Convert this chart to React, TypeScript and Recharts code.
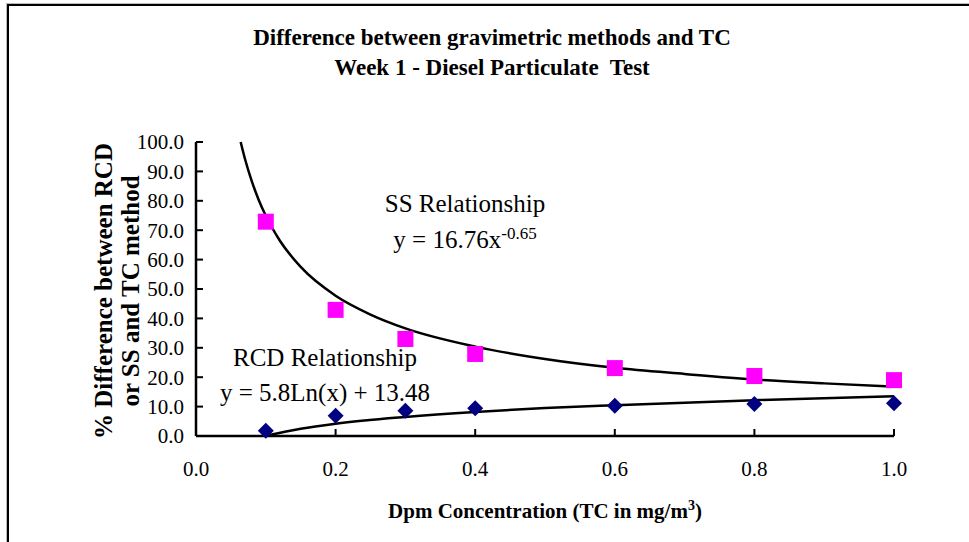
import React from 'react';
import { ComposedChart, Line, Scatter, XAxis, YAxis } from 'recharts';

// measured points (TC in mg/m3 vs % difference)
const tcValues = [0.1, 0.2, 0.3, 0.4, 0.6, 0.8, 1.0];
const ssValues = [72.9, 42.9, 33.0, 27.9, 23.1, 20.4, 19.0];
const rcdValues = [1.8, 6.9, 8.6, 9.4, 10.3, 10.9, 11.1];

// trend curves
const ssCurveX = [0.064, 0.07, 0.08, 0.09, 0.1, 0.12, 0.15, 0.2, 0.25, 0.3, 0.4, 0.5, 0.6, 0.7, 0.8, 0.9, 1.0];
const ssCurveY = [100, 94.4, 86.6, 80.2, 74.9, 66.5, 57.5, 47.7, 41.3, 36.6, 30.4, 26.2, 23.2, 21.1, 19.2, 17.9, 16.8];
const rcdCurveX = [0.1, 0.15, 0.2, 0.3, 0.4, 0.5, 0.6, 0.8, 1.0];
const rcdCurveY = [0.1, 2.5, 4.2, 6.5, 8.2, 9.5, 10.5, 12.2, 13.5];

const xTicks = [0, 0.2, 0.4, 0.6, 0.8, 1.0];
const yTicks = [0, 10, 20, 30, 40, 50, 60, 70, 80, 90, 100];

const ssPoints = tcValues.map((x, i) => ({ x, y: ssValues[i] }));
const rcdPoints = tcValues.map((x, i) => ({ x, y: rcdValues[i] }));
const ssCurve = ssCurveX.map((x, i) => ({ x, y: ssCurveY[i] }));
const rcdCurve = rcdCurveX.map((x, i) => ({ x, y: rcdCurveY[i] }));

const FONT = '"Liberation Serif", "Times New Roman", serif';

const Square = (p: any) => (
  <rect x={p.cx - 8} y={p.cy - 8} width={16} height={16} fill="#FF00FF" />
);

const Diamond = (p: any) => (
  <polygon
    points={`${p.cx},${p.cy - 8} ${p.cx + 8},${p.cy} ${p.cx},${p.cy + 8} ${p.cx - 8},${p.cy}`}
    fill="#000080"
  />
);

const abs = (left: number, top: number): React.CSSProperties => ({
  position: 'absolute',
  left,
  top,
  transform: 'translate(-50%, -50%)',
  whiteSpace: 'nowrap',
  fontFamily: FONT,
  color: '#000',
  lineHeight: 1.2,
});

const supStyle = (size: number): React.CSSProperties => ({ fontSize: size, lineHeight: 0 });

export default function App() {
  const tickStyle = { fill: '#000', fontSize: 21, fontFamily: FONT };
  return (
    <div style={{ position: 'absolute', left: 0, top: 0, width: 969, height: 542, background: '#fff', overflow: 'hidden' }}>
      <style>{'body{margin:0}'}</style>
      <div
        style={{
          position: 'absolute',
          left: 7,
          top: 4,
          width: 980,
          height: 560,
          borderTop: '2px solid #000',
          borderLeft: '2px solid #000',
          boxShadow: '-1px -1px 0 #bbb',
        }}
      />
      <ComposedChart width={969} height={542} margin={{ top: 142, right: 75, bottom: 66, left: 0 }}>
        <XAxis
          type="number"
          dataKey="x"
          domain={[0, 1]}
          ticks={xTicks}
          interval={0}
          tickFormatter={(v: number) => v.toFixed(1)}
          height={40}
          tickSize={-7}
          tickMargin={32}
          axisLine={{ stroke: '#000', strokeWidth: 2.5 }}
          tickLine={{ stroke: '#000', strokeWidth: 2 }}
          tick={tickStyle}
        />
        <YAxis
          type="number"
          dataKey="y"
          domain={[0, 100]}
          ticks={yTicks}
          interval={0}
          tickFormatter={(v: number) => v.toFixed(1)}
          width={196}
          tickSize={-7}
          tickMargin={19}
          axisLine={{ stroke: '#000', strokeWidth: 2.5 }}
          tickLine={{ stroke: '#000', strokeWidth: 2 }}
          tick={tickStyle}
        />
        <Scatter data={ssPoints} shape={Square} isAnimationActive={false} />
        <Scatter data={rcdPoints} shape={Diamond} isAnimationActive={false} />
        <Line data={ssCurve} dataKey="y" type="monotone" stroke="#000" strokeWidth={2.5} dot={false} activeDot={false} isAnimationActive={false} />
        <Line data={rcdCurve} dataKey="y" type="monotone" stroke="#000" strokeWidth={2.5} dot={false} activeDot={false} isAnimationActive={false} />
      </ComposedChart>

      <div style={{ ...abs(492, 38), fontSize: 23, fontWeight: 'bold' }}>Difference between gravimetric methods and TC</div>
      <div style={{ ...abs(492, 68), fontSize: 23, fontWeight: 'bold', whiteSpace: 'pre' }}>Week 1 - Diesel Particulate  Test</div>

      <div style={{ ...abs(104, 291), fontSize: 25, fontWeight: 'bold', transform: 'translate(-50%, -50%) rotate(-90deg)' }}>% Difference between RCD</div>
      <div style={{ ...abs(131, 291), fontSize: 25, fontWeight: 'bold', transform: 'translate(-50%, -50%) rotate(-90deg)' }}>or SS and TC method</div>

      <div style={{ ...abs(545, 512), fontSize: 21, fontWeight: 'bold' }}>
        Dpm Concentration (TC in mg/m<sup style={supStyle(14)}>3</sup>)
      </div>

      <div style={{ ...abs(465, 204), fontSize: 25 }}>SS Relationship</div>
      <div style={{ ...abs(465, 240), fontSize: 25 }}>
        y = 16.76x<sup style={supStyle(17)}>-0.65</sup>
      </div>
      <div style={{ ...abs(325, 358), fontSize: 25 }}>RCD Relationship</div>
      <div style={{ ...abs(325, 393), fontSize: 25 }}>y = 5.8Ln(x) + 13.48</div>
    </div>
  );
}
